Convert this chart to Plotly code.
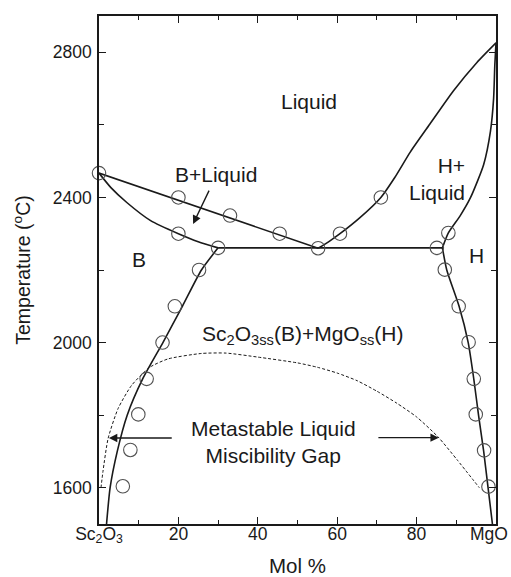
import plotly.graph_objects as go

# ---------------- data ----------------
# experimental points (open circles): mol % MgO, temperature in C
pts_x = [0, 20, 33, 45.5, 55.2, 20, 30, 25.2, 19.1, 16, 12, 9.9, 7.9, 6,
         60.7, 71, 85.1, 88, 87.1, 90.6, 93.1, 94.4, 94.9, 97, 98.1]
pts_T = [2467, 2400, 2350, 2300, 2260, 2300, 2261, 2200, 2100, 2000, 1900, 1802, 1704, 1604,
         2300, 2400, 2261, 2302, 2201, 2100, 2001, 1900, 1802, 1703, 1603]

# liquidus, Sc2O3 side (straight)
liqB_x = [0, 55.2]
liqB_T = [2467, 2260]
# solidus, Sc2O3 side
solB_x = [0, 3, 7, 13, 20, 25, 30]
solB_T = [2467, 2427, 2386, 2336, 2300, 2278, 2261]
# solvus, Sc2O3 side
svB_x = [30, 25.8, 21, 16.1, 11, 7.1, 4.6, 2.8, 1.9]
svB_T = [2261, 2200, 2100, 2000, 1900, 1800, 1700, 1600, 1500]
# eutectic line
eut_x = [30, 86.5]
eut_T = [2261, 2261]
# liquidus, MgO side
liqH_x = [55.2, 58, 60.7, 65.8, 71, 74.5, 78.4, 83.4, 89.3, 95.2, 100]
liqH_T = [2260, 2279, 2300, 2345, 2400, 2455, 2525, 2603, 2694, 2772, 2826]
# solidus, MgO side
solH_x = [86.5, 88, 91, 93.6, 96.9, 98.6, 99.4, 99.7, 100]
solH_T = [2261, 2302, 2350, 2400, 2491, 2582, 2673, 2764, 2826]
# solvus, MgO side
svH_x = [86.5, 87.6, 90.7, 93.0, 94.4, 95.6, 96.9, 98.0, 99.1]
svH_T = [2261, 2200, 2100, 2000, 1900, 1800, 1700, 1600, 1500]
# metastable liquid miscibility gap (dashed)
gap_x = [0.5, 1.0, 2.3, 4.8, 8.2, 12.8, 17.4, 25.8, 32, 40, 50, 55, 60, 65, 70, 75, 80, 85.4, 90.2, 95.8]
gap_T = [1600, 1645, 1736, 1818, 1882, 1932, 1955, 1970, 1971, 1960, 1944, 1932, 1916, 1895, 1866, 1833, 1795, 1740, 1677, 1600]

x_tickvals = [0, 20, 40, 60, 80, 100]
x_ticktext = ["Sc<sub>2</sub>O<sub>3</sub>", "20", "40", "60", "80", ""]
x_end_label = "MgO"          # label of the x = 100 end (drawn as text so it stays inside the page)
x_minor = [10, 30, 50, 70, 90]
y_tickvals = [1600, 2000, 2400, 2800]
y_minor = [1800, 2200, 2600]

FONT = "Liberation Sans, Arial, Helvetica, sans-serif"
INK = "#1a1a1a"

fig = go.Figure()

def curve(x, y, dash="solid", width=1.6, shape="spline", smooth=0.6):
    fig.add_trace(go.Scatter(x=x, y=y, mode="lines",
                             line=dict(color=INK, width=width, dash=dash,
                                       shape=shape, smoothing=smooth),
                             hoverinfo="skip", showlegend=False))

curve(liqB_x, liqB_T, shape="linear")
curve(solB_x, solB_T)
curve(svB_x, svB_T)
curve(eut_x, eut_T, shape="linear")
curve(liqH_x, liqH_T)
curve(solH_x, solH_T)
curve(svH_x, svH_T)
curve(gap_x, gap_T, dash="3px,2px", width=1.0)

fig.add_trace(go.Scatter(x=pts_x, y=pts_T, mode="markers", cliponaxis=False,
                         marker=dict(symbol="circle-open", size=13.5, color="#505050",
                                     line=dict(color="#505050", width=1.1)),
                         showlegend=False))

def label(text, x, y, size=21, **kw):
    fig.add_annotation(x=x, y=y, xref="x", yref="y", text=text, showarrow=False,
                       font=dict(family=FONT, size=size, color=INK), **kw)

label("Liquid", 52.8, 2664)
label("B+Liquid", 29.4, 2464)
label("H+<br>Liquid", 92.6, 2450, align="right", xanchor="right")
label("B", 10.2, 2230)
label("H", 95.2, 2241)
label("Sc<sub>2</sub>O<sub>3ss</sub>(B)+MgO<sub>ss</sub>(H)", 51.3, 2022)
label("Metastable Liquid<br>Miscibility Gap", 44, 1726)

# end label of the x axis (MgO), right-aligned at the page edge like the reference
fig.add_annotation(x=1, y=0, xref="paper", yref="paper", text=x_end_label, showarrow=False,
                   xanchor="right", yanchor="middle", xshift=14, yshift=-10,
                   font=dict(family=FONT, size=17.5, color=INK))

def arrow(x0, y0, x1, y1):
    fig.add_annotation(x=x1, y=y1, ax=x0, ay=y0, xref="x", yref="y",
                       axref="x", ayref="y", text="", showarrow=True,
                       arrowhead=2, arrowsize=1.2, arrowwidth=1.4, arrowcolor=INK)

arrow(27.9, 2423, 23.7, 2327)
arrow(18.7, 1737, 2.5, 1737)
arrow(70.0, 1738, 85.6, 1738)

axis_common = dict(showline=True, linecolor=INK, linewidth=1.5, mirror="allticks",
                   ticks="inside", ticklen=7, tickwidth=1.2, tickcolor=INK,
                   showgrid=False, zeroline=False, automargin=False,
                   tickfont=dict(family=FONT, size=17.5, color=INK))

fig.update_xaxes(range=[0, 100], tickmode="array", tickvals=x_tickvals, ticktext=x_ticktext,
                 minor=dict(tickmode="array", tickvals=x_minor, ticks="inside",
                            ticklen=4, tickwidth=1.2, tickcolor=INK),
                 ticklabelstandoff=-7,
                 title=dict(text="Mol %", font=dict(family=FONT, size=20.5, color=INK), standoff=25),
                 **axis_common)
fig.update_yaxes(range=[1500, 2900], tickmode="array", tickvals=y_tickvals,
                 minor=dict(tickmode="array", tickvals=y_minor, ticks="inside",
                            ticklen=5, tickwidth=1.2, tickcolor=INK),
                 ticklabelstandoff=2,
                 title=dict(text="Temperature (<sup>o</sup>C)",
                            font=dict(family=FONT, size=19.5, color=INK), standoff=17),
                 **axis_common)

fig.update_layout(width=511, height=577,
                  margin=dict(l=99, r=15, t=16, b=53),
                  paper_bgcolor="white", plot_bgcolor="white",
                  showlegend=False)

fig.write_html("out.html", config={"displayModeBar": False},
               post_script="document.body.style.margin='0';document.body.style.padding='0';document.body.style.overflow='hidden';")
